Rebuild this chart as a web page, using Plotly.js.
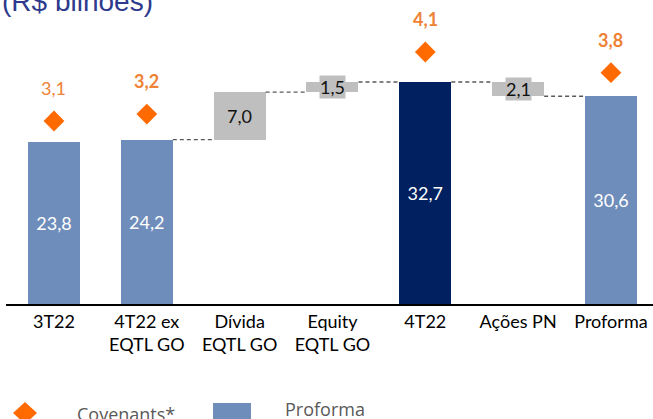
<!DOCTYPE html>
<html>
<head>
<meta charset="utf-8">
<script src="https://cdn.plot.ly/plotly-3.0.1.min.js"></script>
<style>html,body{margin:0;padding:0;background:#fff;}#chart{width:653px;height:419px;}</style>
</head>
<body>
<div id="chart"></div>
<script>
// ---- data ----
const categories = ['3T22', '4T22 ex<br>EQTL GO', 'Dívida<br>EQTL GO', 'Equity<br>EQTL GO', '4T22', 'Ações PN', 'Proforma'];
const values = [23.8, 24.2, 7.0, 1.5, 32.7, -2.1, 30.6];
const measures = ['absolute', 'absolute', 'relative', 'relative', 'total', 'relative', 'total'];
const covenantIndex = [0, 1, 4, 6];
const covenantValues = [3.1, 3.2, 4.1, 3.8];
const titleText = '(R$ bilhões)';
const legendLabels = ['Covenants*', 'Proforma'];

// ---- styles ----
const barColors = ['#6F8DBA', '#6F8DBA', '#BFBFBF', '#BFBFBF', '#002060', '#BFBFBF', '#6F8DBA'];
const labelBold = [false, true, true, true];
const BW = 0.56;
const fmt = v => Math.abs(v).toFixed(1).replace('.', ',');

// waterfall geometry through the data
const xs = categories.map((c, i) => i);
const bases = [], heights = [], levels = [];
let running = 0;
values.forEach((v, i) => {
  const m = measures[i];
  if (m === 'absolute' || m === 'total') { bases.push(0); heights.push(v); running = v; }
  else {
    if (v >= 0) { bases.push(running); heights.push(v); }
    else { bases.push(running + v); heights.push(-v); }
    running += v;
  }
  levels.push(running);
});

// connectors
const cx = [], cy = [];
for (let i = 0; i < values.length - 1; i++) {
  if (measures[i + 1] === 'absolute') continue;
  cx.push(xs[i] + BW / 2, xs[i + 1] - BW / 2, null);
  cy.push(levels[i], levels[i], null);
}

const insideText = values.map((v, i) => measures[i] === 'relative' ? '' : fmt(v));

const traces = [
  {
    type: 'bar', x: xs, y: heights, base: bases, width: BW,
    marker: {color: barColors, line: {width: 0}},
    text: insideText, textposition: 'inside', insidetextanchor: 'middle', textangle: 0,
    textfont: {family: 'Lato, sans-serif', size: 18, color: '#FFFFFF'},
    cliponaxis: false, hoverinfo: 'skip'
  },
  {
    type: 'scatter', mode: 'lines', x: cx, y: cy,
    line: {color: '#595959', width: 1.3, dash: '4px,3px'}, hoverinfo: 'skip'
  },
  {
    type: 'scatter', mode: 'markers', x: covenantIndex, y: covenantValues, yaxis: 'y2',
    marker: {symbol: 'diamond', size: 16, color: '#FF6A00', line: {width: 0}},
    cliponaxis: false, hoverinfo: 'skip'
  }
];

// pixel helpers for decoration (plot area: x 6..653, y 30..304)
const L = 6, R = 0, T = 30, B = 115, W = 653, H = 419;
const pw = W - L - R, ph = H - T - B;
const px = p => (p - L) / pw;
const py = p => (H - B - p) / ph;

const annotations = [];
// gray floating-bar labels
values.forEach((v, i) => {
  if (measures[i] !== 'relative') return;
  annotations.push({
    x: xs[i], y: bases[i] + heights[i] / 2, xref: 'x', yref: 'y',
    text: fmt(v), showarrow: false, bgcolor: '#BFBFBF', borderpad: 0,
    font: {family: 'Lato, sans-serif', size: 18, color: '#111111'}
  });
});
// covenant labels
covenantValues.forEach((v, k) => {
  annotations.push({
    x: covenantIndex[k], y: v, xref: 'x', yref: 'y2', yshift: 33,
    text: labelBold[k] ? '<b>' + fmt(v) + '</b>' : fmt(v), showarrow: false,
    font: {family: 'Lato, sans-serif', size: 18, color: '#EE8236'}
  });
});
// title
annotations.push({
  x: px(0), y: py(2), xref: 'paper', yref: 'paper', xanchor: 'left', yanchor: 'middle',
  text: titleText, showarrow: false,
  font: {family: 'Liberation Sans, Arial, sans-serif', size: 28, color: '#2E3A8C'}
});
// legend texts
annotations.push({
  x: px(75), y: py(414), xref: 'paper', yref: 'paper', xanchor: 'left', yanchor: 'middle',
  text: legendLabels[0], showarrow: false,
  font: {family: 'Open Sans, sans-serif', size: 18, color: '#595959'}
});
annotations.push({
  x: px(283), y: py(409), xref: 'paper', yref: 'paper', xanchor: 'left', yanchor: 'middle',
  text: legendLabels[1], showarrow: false,
  font: {family: 'Open Sans, sans-serif', size: 18, color: '#595959'}
});

const shapes = [
  {type: 'path', xref: 'paper', yref: 'paper',
   path: `M ${px(13)} ${py(413)} L ${px(25)} ${py(402)} L ${px(37)} ${py(413)} L ${px(25)} ${py(424)} Z`,
   fillcolor: '#FF6A00', line: {width: 0}},
  {type: 'rect', xref: 'paper', yref: 'paper', x0: px(213), x1: px(251), y0: py(403), y1: py(425),
   fillcolor: '#6F8DBA', line: {width: 0}}
];

const layout = {
  width: W, height: H,
  margin: {l: L, r: R, t: T, b: B, pad: 0},
  paper_bgcolor: '#FFFFFF', plot_bgcolor: '#FFFFFF',
  showlegend: false, hovermode: false,
  xaxis: {
    range: [-0.517, 6.453], tickmode: 'array', tickvals: xs, ticktext: categories,
    showline: true, linecolor: '#000000', linewidth: 2, ticks: '', showgrid: false, zeroline: false,
    tickfont: {family: 'Lato, sans-serif', size: 18, color: '#000000'}, fixedrange: true
  },
  yaxis: {range: [0, 40.36], visible: false, showgrid: false, zeroline: false, fixedrange: true},
  yaxis2: {range: [0.4478, 4.4188], overlaying: 'y', side: 'right', visible: false, showgrid: false, zeroline: false, fixedrange: true},
  annotations: annotations,
  shapes: shapes,
  bargap: 0
};

Plotly.newPlot('chart', traces, layout, {displayModeBar: false, staticPlot: true});
</script>
</body>
</html>
